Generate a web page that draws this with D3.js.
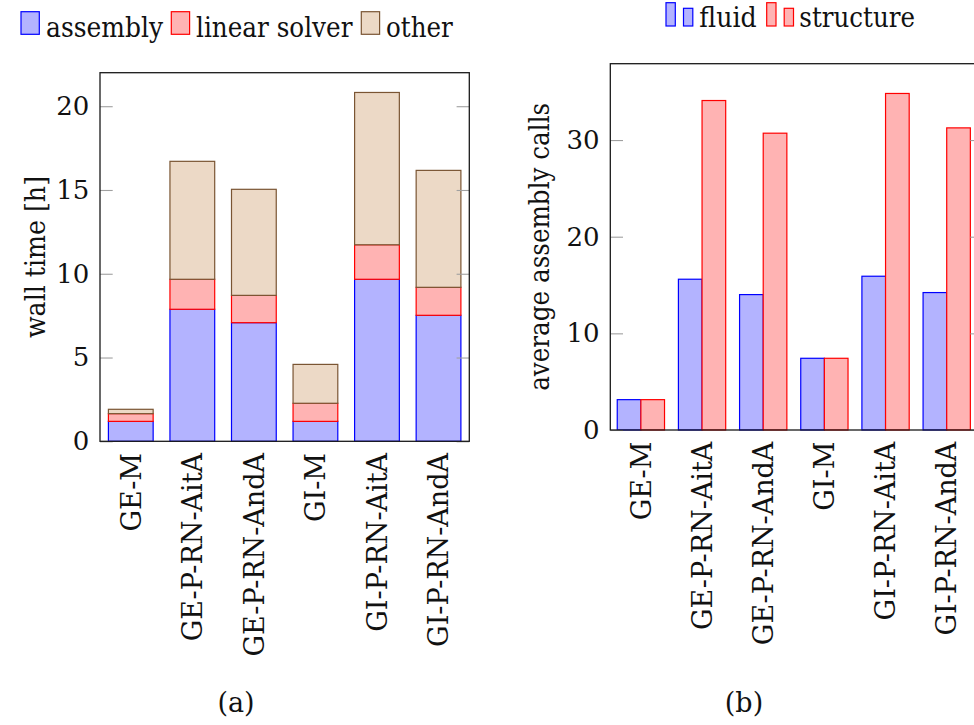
<!DOCTYPE html>
<html>
<head>
<meta charset="utf-8">
<script src="https://cdn.jsdelivr.net/npm/d3@7"></script>
<style>
  html, body { margin: 0; padding: 0; background: #fff; }
  svg { display: block; font-family: "DejaVu Serif", serif; }
</style>
</head>
<body>
<svg id="fig" width="974" height="725"></svg>
<script>
// Solver variants compared in both panels
const categories = ["GE-M", "GE-P-RN-AitA", "GE-P-RN-AndA", "GI-M", "GI-P-RN-AitA", "GI-P-RN-AndA"];

// (a) wall time split into stacked components, in hours
const assembly     = [1.19, 7.88, 7.08, 1.19, 9.67, 7.52];
const linearSolver = [0.46, 1.79, 1.63, 1.08, 2.06, 1.67];
const other        = [0.26, 7.04, 6.33, 2.32, 9.09, 6.98];
const wallTimeTicks = [0, 5, 10, 15, 20];

// (b) average number of assembly calls per field
const fluidCalls     = [3.14, 15.6, 14.01, 7.42, 15.91, 14.22];
const structureCalls = [3.14, 34.09, 30.71, 7.42, 34.82, 31.26];
const callTicks = [0, 10, 20, 30];

const FONT = "DejaVu Serif";
const FS = 27;
const svg = d3.select("#fig");

const blue  = { fill: "#b3b3ff", stroke: "#0000ff" };
const red   = { fill: "#ffb3b3", stroke: "#ff0000" };
const brown = { fill: "#ecd9c6", stroke: "#7a5533" };

function label(g, size) {
  return g.append("text").attr("font-size", size || FS).attr("font-family", FONT).attr("fill", "#111");
}

// squeeze a text element to a given advance width
function fitWidth(sel, w) {
  return sel.attr("textLength", w).attr("lengthAdjust", "spacingAndGlyphs");
}

function styleYAxis(g) {
  g.select(".domain").remove();
  g.selectAll(".tick line").attr("stroke", "#a0a0a0").attr("stroke-width", 1.1);
  g.selectAll(".tick text").attr("font-size", 26).attr("font-family", FONT).attr("fill", "#111");
}

function drawXLabels(g, x, y0) {
  const ax = d3.axisBottom(x).tickSize(0).tickPadding(0);
  g.attr("transform", `translate(0,${y0})`).call(ax);
  g.select(".domain").remove();
  g.selectAll(".tick text")
    .attr("transform", "rotate(-90)")
    .attr("text-anchor", "end")
    .attr("x", -11.7).attr("y", 0).attr("dy", "0.36em")
    .attr("font-size", FS).attr("font-family", FONT).attr("fill", "#111");
}

// ---------- panel (a): stacked wall time ----------
{
  const L = 100, R = 469.3, T = 72.7, B = 441.3;
  const x = d3.scaleBand().domain(categories).range([L, R]).paddingInner(0.273).paddingOuter(0.1365);
  const y = d3.scaleLinear().domain([0, 22]).range([B, T]);

  const rows = categories.map((c, i) => ({ cat: c, assembly: assembly[i], linear: linearSolver[i], other: other[i] }));
  const keys = ["assembly", "linear", "other"];
  const styles = { assembly: blue, linear: red, other: brown };
  const stacked = d3.stack().keys(keys)(rows);

  const g = svg.append("g");
  g.selectAll("g.layer").data(stacked).join("g")
    .attr("class", "layer")
    .attr("fill", d => styles[d.key].fill)
    .attr("stroke", d => styles[d.key].stroke)
    .attr("stroke-width", 1.2)
    .selectAll("rect").data(d => d).join("rect")
      .attr("x", d => x(d.data.cat))
      .attr("width", x.bandwidth())
      .attr("y", d => y(d[1]))
      .attr("height", d => y(d[0]) - y(d[1]));

  g.append("g").attr("transform", `translate(${L},0)`)
    .call(d3.axisLeft(y).tickValues(wallTimeTicks).tickSizeInner(-12.7).tickSizeOuter(0).tickPadding(10.7))
    .call(styleYAxis);
  g.append("g").attr("transform", `translate(${R},0)`)
    .call(d3.axisRight(y).tickValues(wallTimeTicks).tickSizeInner(-12.7).tickSizeOuter(0).tickFormat(""))
    .call(styleYAxis);

  g.append("rect").attr("x", L).attr("y", T).attr("width", R - L).attr("height", B - T)
    .attr("fill", "none").attr("stroke", "#1a1a1a").attr("stroke-width", 1.3);

  drawXLabels(g.append("g"), x, B);

  fitWidth(label(g).attr("transform", `translate(45,${(T + B) / 2}) rotate(-90)`)
    .attr("text-anchor", "middle").text("wall time [h]"), 162);

  // legend
  const leg = [
    { label: "assembly", s: blue, bx: 21, tx: 46, w: 117 },
    { label: "linear solver", s: red, bx: 171.3, tx: 196, w: 156.5 },
    { label: "other", s: brown, bx: 361.3, tx: 386, w: 66.7 }
  ];
  const lg = g.append("g");
  leg.forEach(d => {
    lg.append("rect").attr("x", d.bx).attr("y", 11.7).attr("width", 18.3).attr("height", 22.6)
      .attr("fill", d.s.fill).attr("stroke", d.s.stroke).attr("stroke-width", 1.2);
    fitWidth(label(lg).attr("x", d.tx).attr("y", 36.5).text(d.label), d.w);
  });

  label(g).attr("x", 236).attr("y", 712).attr("text-anchor", "middle").text("(a)");
}

// ---------- panel (b): grouped assembly calls ----------
{
  const L = 610.3, T = 63.7, B = 430, frameR = 983;
  const x = d3.scaleBand().domain(categories).range([L, L + 367]).paddingInner(0.227).paddingOuter(0.1135);
  const sub = d3.scaleBand().domain(["fluid", "structure"]).range([0, x.bandwidth()]);
  const y = d3.scaleLinear().domain([0, 37.9]).range([B, T]);

  const g = svg.append("g");
  const series = [
    { key: "fluid", vals: fluidCalls, s: blue },
    { key: "structure", vals: structureCalls, s: red }
  ];
  series.forEach(sr => {
    g.append("g").attr("fill", sr.s.fill).attr("stroke", sr.s.stroke).attr("stroke-width", 1.2)
      .selectAll("rect").data(categories.map((c, i) => ({ cat: c, v: sr.vals[i] }))).join("rect")
        .attr("x", d => x(d.cat) + sub(sr.key))
        .attr("width", sub.bandwidth())
        .attr("y", d => y(d.v))
        .attr("height", d => B - y(d.v));
  });

  g.append("g").attr("transform", `translate(${L},0)`)
    .call(d3.axisLeft(y).tickValues(callTicks).tickSizeInner(-12.7).tickSizeOuter(0).tickPadding(10.7))
    .call(styleYAxis);
  g.append("g").attr("transform", `translate(${frameR},0)`)
    .call(d3.axisRight(y).tickValues(callTicks).tickSizeInner(-12.7).tickSizeOuter(0).tickFormat(""))
    .call(styleYAxis);

  g.append("rect").attr("x", L).attr("y", T).attr("width", frameR - L).attr("height", B - T)
    .attr("fill", "none").attr("stroke", "#1a1a1a").attr("stroke-width", 1.3);

  drawXLabels(g.append("g"), x, B);

  fitWidth(label(g).attr("transform", `translate(549,${(T + B) / 2}) rotate(-90)`)
    .attr("text-anchor", "middle").text("average assembly calls"), 288);

  // legend: two small bars per entry
  const leg = [
    { label: "fluid", s: blue, bx: 666, tx: 699.3, w: 57.4 },
    { label: "structure", s: red, bx: 766.7, tx: 799.3, w: 115.7 }
  ];
  const lg = g.append("g");
  leg.forEach(d => {
    lg.append("rect").attr("x", d.bx).attr("y", 2.7).attr("width", 9.3).attr("height", 23.3)
      .attr("fill", d.s.fill).attr("stroke", d.s.stroke).attr("stroke-width", 1.2);
    lg.append("rect").attr("x", d.bx + 17.5).attr("y", 8.3).attr("width", 9.3).attr("height", 17.7)
      .attr("fill", d.s.fill).attr("stroke", d.s.stroke).attr("stroke-width", 1.2);
    fitWidth(label(lg).attr("x", d.tx).attr("y", 27).text(d.label), d.w);
  });

  label(g).attr("x", 744).attr("y", 712).attr("text-anchor", "middle").text("(b)");
}
</script>
</body>
</html>
